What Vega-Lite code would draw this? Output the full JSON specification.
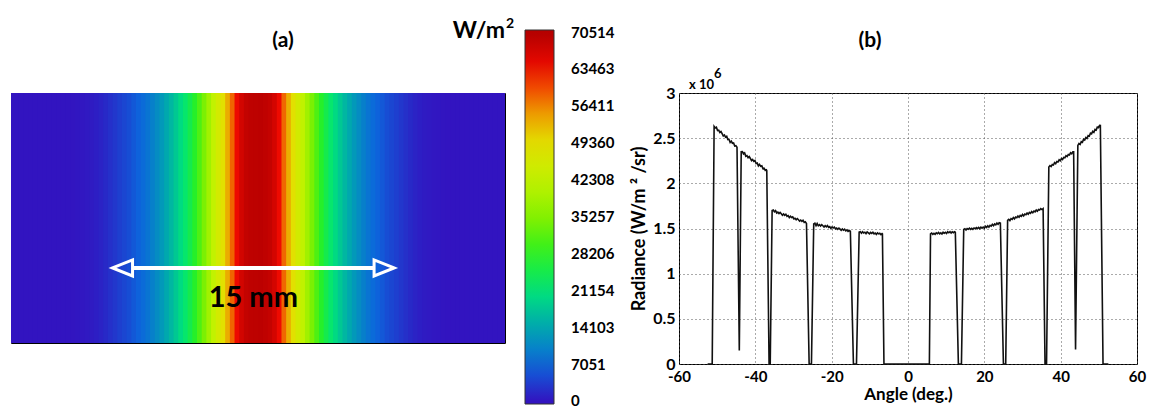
{
  "$schema": "https://vega.github.io/schema/vega-lite/v6.json",
  "autosize": {"type": "none"},
  "padding": {"left": 11, "top": 93, "right": 1140, "bottom": 315},
  "background": "white",
  "config": {
    "font": "Lato",
    "view": {"stroke": "black", "strokeWidth": 1},
    "text": {"font": "Lato", "fontWeight": "bold", "color": "black"}
  },
  "bounds": "flush",
  "spacing": 174,
  "hconcat": [
    {
      "width": 494,
      "height": 250,
      "layer": [
        {
          "data": {"values": [
            {"x0": -13.25, "x1": -13.0, "E": 0}, {"x0": -13.0, "x1": -12.75, "E": 0}, {"x0": -12.75, "x1": -12.5, "E": 0},
            {"x0": -12.5, "x1": -12.25, "E": 0}, {"x0": -12.25, "x1": -12.0, "E": 0}, {"x0": -12.0, "x1": -11.75, "E": 0},
            {"x0": -11.75, "x1": -11.5, "E": 0}, {"x0": -11.5, "x1": -11.25, "E": 5}, {"x0": -11.25, "x1": -11.0, "E": 5},
            {"x0": -11.0, "x1": -10.75, "E": 10}, {"x0": -10.75, "x1": -10.5, "E": 10}, {"x0": -10.5, "x1": -10.25, "E": 20},
            {"x0": -10.25, "x1": -10.0, "E": 40}, {"x0": -10.0, "x1": -9.75, "E": 80}, {"x0": -9.75, "x1": -9.5, "E": 150},
            {"x0": -9.5, "x1": -9.25, "E": 250}, {"x0": -9.25, "x1": -9.0, "E": 400}, {"x0": -9.0, "x1": -8.75, "E": 600},
            {"x0": -8.75, "x1": -8.5, "E": 900}, {"x0": -8.5, "x1": -8.25, "E": 1300}, {"x0": -8.25, "x1": -8.0, "E": 1800},
            {"x0": -8.0, "x1": -7.75, "E": 2400}, {"x0": -7.75, "x1": -7.5, "E": 3050}, {"x0": -7.5, "x1": -7.25, "E": 3700},
            {"x0": -7.25, "x1": -7.0, "E": 4301}, {"x0": -7.0, "x1": -6.75, "E": 4936}, {"x0": -6.75, "x1": -6.5, "E": 5853},
            {"x0": -6.5, "x1": -6.25, "E": 6699}, {"x0": -6.25, "x1": -6.0, "E": 7616}, {"x0": -6.0, "x1": -5.75, "E": 8603},
            {"x0": -5.75, "x1": -5.5, "E": 9872}, {"x0": -5.5, "x1": -5.25, "E": 11282}, {"x0": -5.25, "x1": -5.0, "E": 12693},
            {"x0": -5.0, "x1": -4.75, "E": 14314}, {"x0": -4.75, "x1": -4.5, "E": 16077}, {"x0": -4.5, "x1": -4.25, "E": 17981},
            {"x0": -4.25, "x1": -4.0, "E": 20096}, {"x0": -4.0, "x1": -3.75, "E": 22212}, {"x0": -3.75, "x1": -3.5, "E": 24680},
            {"x0": -3.5, "x1": -3.25, "E": 27500}, {"x0": -3.25, "x1": -3.0, "E": 31026}, {"x0": -3.0, "x1": -2.75, "E": 34552},
            {"x0": -2.75, "x1": -2.5, "E": 38430}, {"x0": -2.5, "x1": -2.25, "E": 41956}, {"x0": -2.25, "x1": -2.0, "E": 45482},
            {"x0": -2.0, "x1": -1.75, "E": 49360}, {"x0": -1.75, "x1": -1.5, "E": 53591}, {"x0": -1.5, "x1": -1.25, "E": 58527},
            {"x0": -1.25, "x1": -1.0, "E": 63815}, {"x0": -1.0, "x1": -0.75, "E": 66988}, {"x0": -0.75, "x1": -0.5, "E": 68751},
            {"x0": -0.5, "x1": -0.25, "E": 69315}, {"x0": -0.25, "x1": 0.0, "E": 69456},
            {"x0": 0.0, "x1": 0.25, "E": 69520}, {"x0": 0.25, "x1": 0.5, "E": 69280}, {"x0": 0.5, "x1": 0.75, "E": 68690},
            {"x0": 0.75, "x1": 1.0, "E": 66900}, {"x0": 1.0, "x1": 1.25, "E": 63700}, {"x0": 1.25, "x1": 1.5, "E": 58400},
            {"x0": 1.5, "x1": 1.75, "E": 53500}, {"x0": 1.75, "x1": 2.0, "E": 49300}, {"x0": 2.0, "x1": 2.25, "E": 45400},
            {"x0": 2.25, "x1": 2.5, "E": 41900}, {"x0": 2.5, "x1": 2.75, "E": 38400}, {"x0": 2.75, "x1": 3.0, "E": 34500},
            {"x0": 3.0, "x1": 3.25, "E": 31000}, {"x0": 3.25, "x1": 3.5, "E": 27450}, {"x0": 3.5, "x1": 3.75, "E": 24650},
            {"x0": 3.75, "x1": 4.0, "E": 22150}, {"x0": 4.0, "x1": 4.25, "E": 20050}, {"x0": 4.25, "x1": 4.5, "E": 17950},
            {"x0": 4.5, "x1": 4.75, "E": 16050}, {"x0": 4.75, "x1": 5.0, "E": 14300}, {"x0": 5.0, "x1": 5.25, "E": 12680},
            {"x0": 5.25, "x1": 5.5, "E": 11270}, {"x0": 5.5, "x1": 5.75, "E": 9860}, {"x0": 5.75, "x1": 6.0, "E": 8590},
            {"x0": 6.0, "x1": 6.25, "E": 7600}, {"x0": 6.25, "x1": 6.5, "E": 6690}, {"x0": 6.5, "x1": 6.75, "E": 5840},
            {"x0": 6.75, "x1": 7.0, "E": 4930}, {"x0": 7.0, "x1": 7.25, "E": 4290}, {"x0": 7.25, "x1": 7.5, "E": 3690},
            {"x0": 7.5, "x1": 7.75, "E": 3040}, {"x0": 7.75, "x1": 8.0, "E": 2390}, {"x0": 8.0, "x1": 8.25, "E": 1790},
            {"x0": 8.25, "x1": 8.5, "E": 1290}, {"x0": 8.5, "x1": 8.75, "E": 890}, {"x0": 8.75, "x1": 9.0, "E": 590},
            {"x0": 9.0, "x1": 9.25, "E": 390}, {"x0": 9.25, "x1": 9.5, "E": 240}, {"x0": 9.5, "x1": 9.75, "E": 140},
            {"x0": 9.75, "x1": 10.0, "E": 80}, {"x0": 10.0, "x1": 10.25, "E": 40}, {"x0": 10.25, "x1": 10.5, "E": 20},
            {"x0": 10.5, "x1": 10.75, "E": 10}, {"x0": 10.75, "x1": 11.0, "E": 10}, {"x0": 11.0, "x1": 11.25, "E": 5},
            {"x0": 11.25, "x1": 11.5, "E": 5}, {"x0": 11.5, "x1": 11.75, "E": 0}, {"x0": 11.75, "x1": 12.0, "E": 0},
            {"x0": 12.0, "x1": 12.25, "E": 0}, {"x0": 12.25, "x1": 12.5, "E": 0}, {"x0": 12.5, "x1": 12.75, "E": 0},
            {"x0": 12.75, "x1": 13.0, "E": 0}, {"x0": 13.0, "x1": 13.25, "E": 0}
          ]},
          "mark": {"type": "rect", "clip": true, "x2Offset": 1},
          "encoding": {
            "x": {"field": "x0", "type": "quantitative", "scale": {"domain": [-13.16, 13.16], "nice": false, "zero": false}, "axis": null},
            "x2": {"field": "x1"},
            "y": {"datum": -6.66, "type": "quantitative", "scale": {"domain": [-6.66, 6.66], "nice": false, "zero": false}, "axis": null},
            "y2": {"datum": 6.66},
            "color": {
              "field": "E",
              "type": "quantitative",
              "scale": {
                "type": "linear",
                "interpolate": "rgb",
                "domain": [-500, 0, 7051, 14103, 21154, 28206, 35257, 42308, 49360, 56411, 63463, 70514, 71014],
                "range": ["#3214c0", "#3214c0", "#0c66dc", "#00a6b0", "#00e47a", "#2af020", "#84f000", "#c4f200", "#e2e000", "#f08a00", "#f00a00", "#b40000", "#b40000"]
              },
              "legend": {
                "type": "gradient",
                "orient": "none",
                "legendX": 514,
                "legendY": -63,
                "direction": "vertical",
                "title": null,
                "padding": 0,
                "gradientLength": 374,
                "gradientThickness": 29,
                "gradientStrokeColor": "#333333",
                "gradientStrokeWidth": 1,
                "values": [0, 7051, 14103, 21154, 28206, 35257, 42308, 49360, 56411, 63463, 70514],
                "labelExpr": "'' + datum.value",
                "labelFont": "Lato",
                "labelFontSize": 15,
                "labelFontWeight": "bold",
                "labelColor": "black",
                "labelOffset": 17,
                "labelOverlap": false,
                "labelBaseline": "middle"
              }
            }
          }
        },
        {
          "data": {"values": [{"start": -7.75, "end": 7.25, "label": "15 mm"}]},
          "layer": [
            {
              "mark": {"type": "rule", "color": "white", "strokeWidth": 4, "xOffset": 20, "x2Offset": -20},
              "encoding": {
                "x": {"field": "start", "type": "quantitative"},
                "x2": {"field": "end"},
                "y": {"datum": -2.66, "type": "quantitative"}
              }
            },
            {
              "mark": {"type": "point", "shape": "M -1 0 L 1 -0.8 L 1 0.8 Z", "size": 400, "filled": false, "stroke": "white", "strokeWidth": 3, "opacity": 1, "xOffset": 10},
              "encoding": {
                "x": {"field": "start", "type": "quantitative"},
                "y": {"datum": -2.66, "type": "quantitative"}
              }
            },
            {
              "mark": {"type": "point", "shape": "M 1 0 L -1 -0.8 L -1 0.8 Z", "size": 400, "filled": false, "stroke": "white", "strokeWidth": 3, "opacity": 1, "xOffset": -10},
              "encoding": {
                "x": {"field": "end", "type": "quantitative"},
                "y": {"datum": -2.66, "type": "quantitative"}
              }
            },
            {
              "mark": {"type": "text", "fontSize": 29, "align": "center", "baseline": "middle"},
              "encoding": {
                "x": {"datum": -0.25, "type": "quantitative"},
                "y": {"datum": -4.26, "type": "quantitative"},
                "text": {"field": "label"}
              }
            }
          ]
        },
        {
          "data": {"values": [{"panel": "(a)", "unit": "W/m", "power": "2"}]},
          "layer": [
            {
              "mark": {"type": "text", "fontSize": 21, "align": "center", "baseline": "alphabetic", "dx": 25, "dy": -46},
              "encoding": {
                "x": {"datum": 0, "type": "quantitative"},
                "y": {"datum": 6.66, "type": "quantitative"},
                "text": {"field": "panel"}
              }
            },
            {
              "mark": {"type": "text", "fontSize": 23, "align": "right", "baseline": "alphabetic", "dy": -55},
              "encoding": {
                "x": {"datum": 13.16, "type": "quantitative"},
                "y": {"datum": 6.66, "type": "quantitative"},
                "text": {"field": "unit"}
              }
            },
            {
              "mark": {"type": "text", "fontSize": 14, "align": "left", "baseline": "alphabetic", "dx": 1, "dy": -65},
              "encoding": {
                "x": {"datum": 13.16, "type": "quantitative"},
                "y": {"datum": 6.66, "type": "quantitative"},
                "text": {"field": "power"}
              }
            }
          ]
        }
      ]
    },
    {
      "width": 458,
      "height": 271,
      "layer": [
        {
          "data": {"values": [
            {"angle": -52.5, "radiance": 0}, {"angle": -51.3, "radiance": 0},
            {"angle": -50.8, "radiance": 2.63}, {"angle": -50.5, "radiance": 2.613}, {"angle": -50.2, "radiance": 2.621},
            {"angle": -49.9, "radiance": 2.584}, {"angle": -49.6, "radiance": 2.588}, {"angle": -49.3, "radiance": 2.563},
            {"angle": -49.0, "radiance": 2.573}, {"angle": -48.7, "radiance": 2.55}, {"angle": -48.4, "radiance": 2.524},
            {"angle": -48.1, "radiance": 2.535}, {"angle": -47.8, "radiance": 2.511}, {"angle": -47.5, "radiance": 2.52},
            {"angle": -47.2, "radiance": 2.484}, {"angle": -46.9, "radiance": 2.487}, {"angle": -46.6, "radiance": 2.453},
            {"angle": -46.3, "radiance": 2.468}, {"angle": -46.0, "radiance": 2.444}, {"angle": -45.7, "radiance": 2.447},
            {"angle": -45.4, "radiance": 2.413}, {"angle": -45.1, "radiance": 2.416}, {"angle": -44.8, "radiance": 2.4},
            {"angle": -44.2, "radiance": 0.15},
            {"angle": -43.7, "radiance": 2.35}, {"angle": -43.4, "radiance": 2.351}, {"angle": -43.1, "radiance": 2.325},
            {"angle": -42.8, "radiance": 2.336}, {"angle": -42.5, "radiance": 2.3}, {"angle": -42.2, "radiance": 2.307},
            {"angle": -41.9, "radiance": 2.284}, {"angle": -41.6, "radiance": 2.296}, {"angle": -41.3, "radiance": 2.275},
            {"angle": -41.0, "radiance": 2.251}, {"angle": -40.7, "radiance": 2.264}, {"angle": -40.4, "radiance": 2.243},
            {"angle": -40.1, "radiance": 2.253}, {"angle": -39.8, "radiance": 2.22}, {"angle": -39.5, "radiance": 2.224},
            {"angle": -39.2, "radiance": 2.193}, {"angle": -38.9, "radiance": 2.21}, {"angle": -38.6, "radiance": 2.188},
            {"angle": -38.3, "radiance": 2.193}, {"angle": -38.0, "radiance": 2.161}, {"angle": -37.7, "radiance": 2.166},
            {"angle": -37.4, "radiance": 2.143}, {"angle": -37.1, "radiance": 2.15}, {"angle": -37.0, "radiance": 2.14},
            {"angle": -36.4, "radiance": 0}, {"angle": -36.1, "radiance": 0},
            {"angle": -35.6, "radiance": 1.7}, {"angle": -35.3, "radiance": 1.705}, {"angle": -35.0, "radiance": 1.685},
            {"angle": -34.7, "radiance": 1.698}, {"angle": -34.4, "radiance": 1.672}, {"angle": -34.1, "radiance": 1.681},
            {"angle": -33.8, "radiance": 1.665}, {"angle": -33.5, "radiance": 1.678}, {"angle": -33.2, "radiance": 1.664},
            {"angle": -32.9, "radiance": 1.647}, {"angle": -32.6, "radiance": 1.661}, {"angle": -32.3, "radiance": 1.646},
            {"angle": -32.0, "radiance": 1.658}, {"angle": -31.7, "radiance": 1.635}, {"angle": -31.4, "radiance": 1.642},
            {"angle": -31.1, "radiance": 1.62}, {"angle": -30.8, "radiance": 1.635}, {"angle": -30.5, "radiance": 1.621},
            {"angle": -30.2, "radiance": 1.628}, {"angle": -29.9, "radiance": 1.606}, {"angle": -29.6, "radiance": 1.613},
            {"angle": -29.3, "radiance": 1.597}, {"angle": -29.0, "radiance": 1.61}, {"angle": -28.7, "radiance": 1.596},
            {"angle": -28.4, "radiance": 1.581}, {"angle": -28.1, "radiance": 1.593}, {"angle": -27.8, "radiance": 1.578},
            {"angle": -27.5, "radiance": 1.59}, {"angle": -27.2, "radiance": 1.567}, {"angle": -26.9, "radiance": 1.575},
            {"angle": -26.6, "radiance": 1.556},
            {"angle": -25.9, "radiance": 0}, {"angle": -25.3, "radiance": 0},
            {"angle": -24.7, "radiance": 1.55}, {"angle": -24.4, "radiance": 1.558}, {"angle": -24.1, "radiance": 1.531},
            {"angle": -23.8, "radiance": 1.555}, {"angle": -23.5, "radiance": 1.53}, {"angle": -23.2, "radiance": 1.542},
            {"angle": -22.9, "radiance": 1.527}, {"angle": -22.6, "radiance": 1.543}, {"angle": -22.3, "radiance": 1.53},
            {"angle": -22.0, "radiance": 1.516}, {"angle": -21.7, "radiance": 1.531}, {"angle": -21.4, "radiance": 1.519},
            {"angle": -21.1, "radiance": 1.532}, {"angle": -20.8, "radiance": 1.512}, {"angle": -20.5, "radiance": 1.52},
            {"angle": -20.2, "radiance": 1.501}, {"angle": -19.9, "radiance": 1.518}, {"angle": -19.6, "radiance": 1.506},
            {"angle": -19.3, "radiance": 1.515}, {"angle": -19.0, "radiance": 1.495}, {"angle": -18.7, "radiance": 1.504},
            {"angle": -18.4, "radiance": 1.49}, {"angle": -18.1, "radiance": 1.505}, {"angle": -17.8, "radiance": 1.493},
            {"angle": -17.5, "radiance": 1.48}, {"angle": -17.2, "radiance": 1.494}, {"angle": -16.9, "radiance": 1.481},
            {"angle": -16.6, "radiance": 1.493}, {"angle": -16.3, "radiance": 1.474}, {"angle": -16.0, "radiance": 1.484},
            {"angle": -15.7, "radiance": 1.467}, {"angle": -15.4, "radiance": 1.477}, {"angle": -15.1, "radiance": 1.47},
            {"angle": -14.3, "radiance": 0}, {"angle": -13.5, "radiance": 0},
            {"angle": -12.8, "radiance": 1.46}, {"angle": -12.5, "radiance": 1.465}, {"angle": -12.2, "radiance": 1.448},
            {"angle": -11.9, "radiance": 1.465}, {"angle": -11.6, "radiance": 1.45}, {"angle": -11.3, "radiance": 1.459},
            {"angle": -11.0, "radiance": 1.444}, {"angle": -10.7, "radiance": 1.463}, {"angle": -10.4, "radiance": 1.452},
            {"angle": -10.1, "radiance": 1.441}, {"angle": -9.8, "radiance": 1.456}, {"angle": -9.5, "radiance": 1.445},
            {"angle": -9.2, "radiance": 1.458}, {"angle": -8.9, "radiance": 1.441}, {"angle": -8.6, "radiance": 1.45},
            {"angle": -8.3, "radiance": 1.435}, {"angle": -8.0, "radiance": 1.452}, {"angle": -7.7, "radiance": 1.441},
            {"angle": -7.4, "radiance": 1.448}, {"angle": -7.1, "radiance": 1.433}, {"angle": -6.8, "radiance": 1.444},
            {"angle": -6.7, "radiance": 1.44},
            {"angle": -6.3, "radiance": 0}, {"angle": 5.6, "radiance": 0},
            {"angle": 5.9, "radiance": 1.44}, {"angle": 6.2, "radiance": 1.449}, {"angle": 6.5, "radiance": 1.436},
            {"angle": 6.8, "radiance": 1.447}, {"angle": 7.1, "radiance": 1.436}, {"angle": 7.4, "radiance": 1.451},
            {"angle": 7.7, "radiance": 1.442}, {"angle": 8.0, "radiance": 1.456}, {"angle": 8.3, "radiance": 1.441},
            {"angle": 8.6, "radiance": 1.452}, {"angle": 8.9, "radiance": 1.439}, {"angle": 9.2, "radiance": 1.458},
            {"angle": 9.5, "radiance": 1.447}, {"angle": 9.8, "radiance": 1.458}, {"angle": 10.1, "radiance": 1.445},
            {"angle": 10.4, "radiance": 1.464}, {"angle": 10.7, "radiance": 1.453}, {"angle": 11.0, "radiance": 1.464},
            {"angle": 11.3, "radiance": 1.449}, {"angle": 11.6, "radiance": 1.464}, {"angle": 11.9, "radiance": 1.454},
            {"angle": 12.2, "radiance": 1.465}, {"angle": 12.4, "radiance": 1.46},
            {"angle": 13.2, "radiance": 0}, {"angle": 14.0, "radiance": 0},
            {"angle": 14.6, "radiance": 1.49}, {"angle": 14.9, "radiance": 1.497}, {"angle": 15.2, "radiance": 1.484},
            {"angle": 15.5, "radiance": 1.499}, {"angle": 15.8, "radiance": 1.491}, {"angle": 16.1, "radiance": 1.504},
            {"angle": 16.4, "radiance": 1.491}, {"angle": 16.7, "radiance": 1.502}, {"angle": 17.0, "radiance": 1.491},
            {"angle": 17.3, "radiance": 1.506}, {"angle": 17.6, "radiance": 1.497}, {"angle": 17.9, "radiance": 1.51},
            {"angle": 18.2, "radiance": 1.498}, {"angle": 18.5, "radiance": 1.511}, {"angle": 18.8, "radiance": 1.498},
            {"angle": 19.1, "radiance": 1.515}, {"angle": 19.4, "radiance": 1.504}, {"angle": 19.7, "radiance": 1.515},
            {"angle": 20.0, "radiance": 1.503}, {"angle": 20.3, "radiance": 1.525}, {"angle": 20.6, "radiance": 1.512},
            {"angle": 20.9, "radiance": 1.53}, {"angle": 21.2, "radiance": 1.515}, {"angle": 21.5, "radiance": 1.535},
            {"angle": 21.8, "radiance": 1.526}, {"angle": 22.1, "radiance": 1.546}, {"angle": 22.4, "radiance": 1.531},
            {"angle": 22.7, "radiance": 1.55}, {"angle": 23.0, "radiance": 1.54}, {"angle": 23.3, "radiance": 1.56},
            {"angle": 23.6, "radiance": 1.547}, {"angle": 23.9, "radiance": 1.564}, {"angle": 24.2, "radiance": 1.56},
            {"angle": 25.0, "radiance": 0}, {"angle": 25.6, "radiance": 0},
            {"angle": 26.1, "radiance": 1.59}, {"angle": 26.4, "radiance": 1.602}, {"angle": 26.7, "radiance": 1.588},
            {"angle": 27.0, "radiance": 1.609}, {"angle": 27.3, "radiance": 1.601}, {"angle": 27.6, "radiance": 1.621},
            {"angle": 27.9, "radiance": 1.607}, {"angle": 28.2, "radiance": 1.626}, {"angle": 28.5, "radiance": 1.62},
            {"angle": 28.8, "radiance": 1.638}, {"angle": 29.1, "radiance": 1.624}, {"angle": 29.4, "radiance": 1.644},
            {"angle": 29.7, "radiance": 1.634}, {"angle": 30.0, "radiance": 1.655}, {"angle": 30.3, "radiance": 1.639},
            {"angle": 30.6, "radiance": 1.659}, {"angle": 30.9, "radiance": 1.653}, {"angle": 31.2, "radiance": 1.671},
            {"angle": 31.5, "radiance": 1.658}, {"angle": 31.8, "radiance": 1.678}, {"angle": 32.1, "radiance": 1.668},
            {"angle": 32.4, "radiance": 1.688}, {"angle": 32.7, "radiance": 1.675}, {"angle": 33.0, "radiance": 1.693},
            {"angle": 33.3, "radiance": 1.685}, {"angle": 33.6, "radiance": 1.705}, {"angle": 33.9, "radiance": 1.691},
            {"angle": 34.2, "radiance": 1.711}, {"angle": 34.5, "radiance": 1.704}, {"angle": 34.8, "radiance": 1.72},
            {"angle": 35.1, "radiance": 1.71}, {"angle": 35.4, "radiance": 1.72},
            {"angle": 35.9, "radiance": 0}, {"angle": 36.3, "radiance": 0},
            {"angle": 36.9, "radiance": 2.18}, {"angle": 37.2, "radiance": 2.196}, {"angle": 37.5, "radiance": 2.186},
            {"angle": 37.8, "radiance": 2.209}, {"angle": 38.1, "radiance": 2.203}, {"angle": 38.4, "radiance": 2.229},
            {"angle": 38.7, "radiance": 2.217}, {"angle": 39.0, "radiance": 2.242}, {"angle": 39.3, "radiance": 2.236},
            {"angle": 39.6, "radiance": 2.26}, {"angle": 39.9, "radiance": 2.25}, {"angle": 40.2, "radiance": 2.274},
            {"angle": 40.5, "radiance": 2.264}, {"angle": 40.8, "radiance": 2.287}, {"angle": 41.1, "radiance": 2.283},
            {"angle": 41.4, "radiance": 2.307}, {"angle": 41.7, "radiance": 2.297}, {"angle": 42.0, "radiance": 2.32},
            {"angle": 42.3, "radiance": 2.314}, {"angle": 42.6, "radiance": 2.338}, {"angle": 42.9, "radiance": 2.328},
            {"angle": 43.2, "radiance": 2.35}, {"angle": 43.4, "radiance": 2.35},
            {"angle": 43.9, "radiance": 0.16},
            {"angle": 44.5, "radiance": 2.42}, {"angle": 44.8, "radiance": 2.441}, {"angle": 45.1, "radiance": 2.43},
            {"angle": 45.4, "radiance": 2.462}, {"angle": 45.7, "radiance": 2.455}, {"angle": 46.0, "radiance": 2.488},
            {"angle": 46.3, "radiance": 2.479}, {"angle": 46.6, "radiance": 2.508}, {"angle": 46.9, "radiance": 2.498},
            {"angle": 47.2, "radiance": 2.529}, {"angle": 47.5, "radiance": 2.522}, {"angle": 47.8, "radiance": 2.555},
            {"angle": 48.1, "radiance": 2.547}, {"angle": 48.4, "radiance": 2.576}, {"angle": 48.7, "radiance": 2.565},
            {"angle": 49.0, "radiance": 2.596}, {"angle": 49.3, "radiance": 2.589}, {"angle": 49.6, "radiance": 2.622},
            {"angle": 49.9, "radiance": 2.616}, {"angle": 50.2, "radiance": 2.641}, {"angle": 50.4, "radiance": 2.64},
            {"angle": 51.1, "radiance": 0}, {"angle": 52.5, "radiance": 0}
          ]},
          "mark": {"type": "line", "color": "#111111", "strokeWidth": 1.6},
          "encoding": {
            "x": {
              "field": "angle",
              "type": "quantitative",
              "scale": {"domain": [-60, 60], "nice": false, "zero": false},
              "axis": {
                "values": [-60, -50, -40, -30, -20, -10, 0, 10, 20, 30, 40, 50, 60],
                "labelExpr": "'' + datum.value",
                "labelFont": "Lato",
                "labelFontSize": 15,
                "labelFontWeight": "bold",
                "labelColor": "black",
                "labelPadding": 5,
                "labelFlush": false,
                "labelBound": false,
                "ticks": false,
                "domain": false,
                "grid": true,
                "gridColor": "#555555",
                "gridDash": [1, 3],
                "gridWidth": 1,
                "gridOpacity": 1,
                "title": "Angle (deg.)",
                "titleFont": "Lato",
                "titleFontSize": 17,
                "titleFontWeight": "bold",
                "titleColor": "black",
                "titlePadding": 2
              }
            },
            "y": {
              "field": "radiance",
              "type": "quantitative",
              "scale": {"domain": [0, 3], "nice": false, "zero": true},
              "axis": {
                "values": [0, 0.5, 1, 1.5, 2, 2.5, 3],
                "labelExpr": "'' + datum.value",
                "labelFont": "Lato",
                "labelFontSize": 16,
                "labelFontWeight": "bold",
                "labelColor": "black",
                "labelPadding": 4,
                "labelFlush": false,
                "labelBound": false,
                "ticks": false,
                "domain": false,
                "grid": true,
                "gridColor": "#555555",
                "gridDash": [1, 3],
                "gridWidth": 1,
                "gridOpacity": 1,
                "title": "Radiance (W/m ² /sr)",
                "titleFont": "Lato",
                "titleFontSize": 18,
                "titleFontWeight": "bold",
                "titleColor": "black",
                "titlePadding": 4
              }
            }
          }
        },
        {
          "data": {"values": [{"panel": "(b)", "mult": "x 10", "exp": "6"}]},
          "layer": [
            {
              "mark": {"type": "text", "fontSize": 21, "align": "center", "baseline": "alphabetic", "dx": -38, "dy": -46},
              "encoding": {
                "x": {"datum": 0, "type": "quantitative"},
                "y": {"datum": 3, "type": "quantitative"},
                "text": {"field": "panel"}
              }
            },
            {
              "mark": {"type": "text", "fontSize": 13, "align": "left", "baseline": "alphabetic", "dx": 10, "dy": -4},
              "encoding": {
                "x": {"datum": -60, "type": "quantitative"},
                "y": {"datum": 3, "type": "quantitative"},
                "text": {"field": "mult"}
              }
            },
            {
              "mark": {"type": "text", "fontSize": 13, "align": "left", "baseline": "alphabetic", "dx": 35, "dy": -15},
              "encoding": {
                "x": {"datum": -60, "type": "quantitative"},
                "y": {"datum": 3, "type": "quantitative"},
                "text": {"field": "exp"}
              }
            }
          ]
        }
      ]
    }
  ]
}
